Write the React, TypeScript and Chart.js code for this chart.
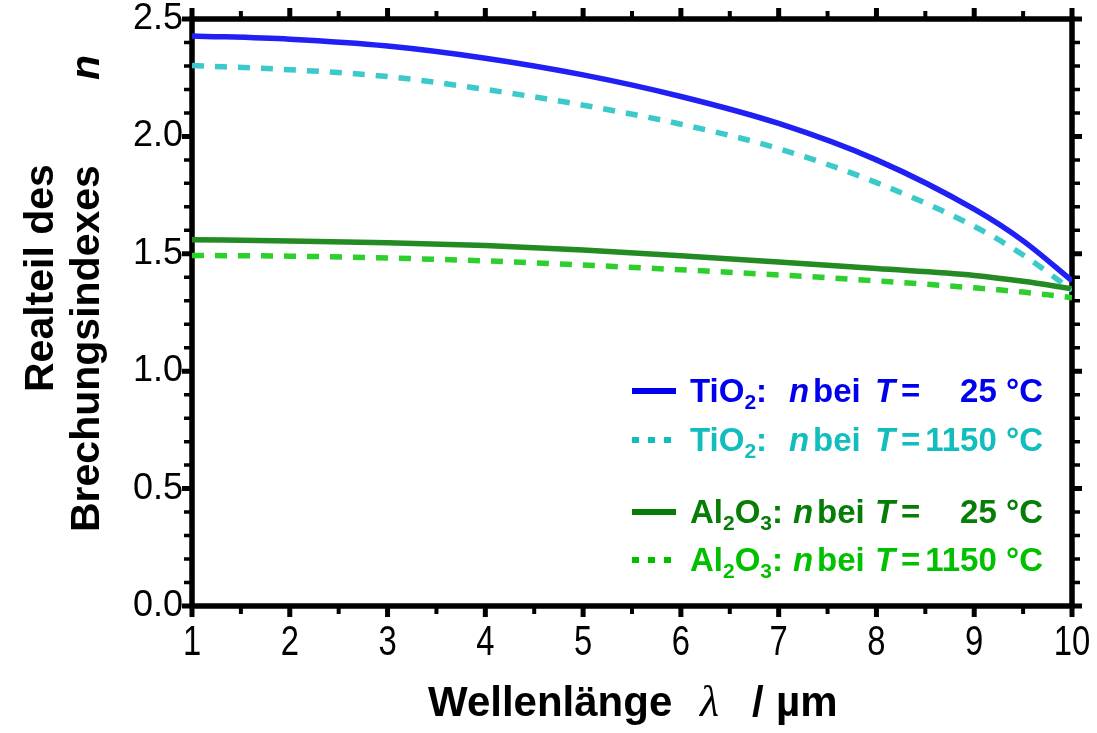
import React, { useEffect, useRef } from 'react';
import { Chart, registerables } from 'chart.js';

Chart.register(...registerables);

// Wavelength (µm)
const WAVELENGTH = [1, 2, 3, 4, 5, 6, 7, 8, 9, 9.5, 10];
// Real part of refractive index n
const TIO2_25 = [2.428, 2.414, 2.385, 2.333, 2.262, 2.17, 2.055, 1.9, 1.69, 1.555, 1.385];
const TIO2_1150 = [2.302, 2.284, 2.255, 2.2, 2.133, 2.052, 1.948, 1.803, 1.617, 1.495, 1.345];
const AL2O3_25 = [1.56, 1.555, 1.547, 1.535, 1.516, 1.492, 1.465, 1.437, 1.408, 1.383, 1.351];
const AL2O3_1150 = [1.493, 1.49, 1.482, 1.47, 1.452, 1.432, 1.41, 1.385, 1.355, 1.337, 1.313];

const X_TICKS = [1, 2, 3, 4, 5, 6, 7, 8, 9, 10];
const X_MINOR = [1.5, 2.5, 3.5, 4.5, 5.5, 6.5, 7.5, 8.5, 9.5];
const Y_TICKS = [0, 0.5, 1.0, 1.5, 2.0, 2.5];
const Y_MINOR = [0.1, 0.2, 0.3, 0.4, 0.6, 0.7, 0.8, 0.9, 1.1, 1.2, 1.3, 1.4, 1.6, 1.7, 1.8, 1.9, 2.1, 2.2, 2.3, 2.4];

const SANS = '"Liberation Sans", Arial, Helvetica, sans-serif';

const C_BLUE = '#2020f5';
const C_CYAN = '#3cc9c9';
const C_DGREEN = '#248a24';
const C_LGREEN = '#2ccf2c';

const framePlugin = {
  id: 'frame',
  beforeDatasetsDraw(chart: any) {
    const { ctx, chartArea: a, scales } = chart;
    const xs = scales.x;
    const ys = scales.y;
    ctx.save();
    ctx.strokeStyle = '#000';
    ctx.lineCap = 'butt';
    const yTick = (v: number, len: number, w: number) => {
      const y = ys.getPixelForValue(v);
      ctx.lineWidth = w;
      ctx.beginPath();
      ctx.moveTo(a.left - len, y);
      ctx.lineTo(a.left, y);
      ctx.moveTo(a.right, y);
      ctx.lineTo(a.right + len, y);
      ctx.stroke();
    };
    const xTick = (v: number, len: number, w: number) => {
      const x = xs.getPixelForValue(v);
      ctx.lineWidth = w;
      ctx.beginPath();
      ctx.moveTo(x, a.bottom);
      ctx.lineTo(x, a.bottom + len);
      ctx.moveTo(x, a.top);
      ctx.lineTo(x, a.top - len);
      ctx.stroke();
    };
    Y_TICKS.forEach((v) => yTick(v, 10, 5));
    Y_MINOR.forEach((v) => yTick(v, 8, 3.5));
    X_TICKS.forEach((v) => xTick(v, 11, 5));
    X_MINOR.forEach((v) => xTick(v, 8, 4));
    ctx.lineWidth = 5.5;
    ctx.strokeRect(a.left, a.top, a.right - a.left, a.bottom - a.top);

    // narrow x tick labels
    ctx.fillStyle = '#000';
    ctx.font = `42px ${SANS}`;
    ctx.textAlign = 'center';
    ctx.textBaseline = 'alphabetic';
    X_TICKS.forEach((v) => {
      const x = xs.getPixelForValue(v);
      ctx.save();
      ctx.translate(x, 655);
      ctx.scale(0.78, 1);
      ctx.fillText(String(v), 0, 0);
      ctx.restore();
    });
    ctx.restore();
  },
};

type Part = { t: string; font: string; dy?: number };

const textPlugin = {
  id: 'texts',
  afterDraw(chart: any) {
    const c: CanvasRenderingContext2D = chart.ctx;
    c.save();
    c.fillStyle = '#000';
    c.textBaseline = 'alphabetic';
    c.textAlign = 'left';
    // X title
    c.font = `bold 42px ${SANS}`;
    c.fillText('Wellenlänge', 428, 716);
    c.font = 'italic 44px "Liberation Serif", "DejaVu Serif", serif';
    c.fillText('λ', 700, 716);
    c.font = `bold 42px ${SANS}`;
    c.fillText('/', 752, 716);
    c.fillText('µm', 776, 716);
    // Y title (rotated)
    c.save();
    c.rotate(-Math.PI / 2);
    c.font = `bold 41px ${SANS}`;
    c.fillText('Realteil des', -392, 53);
    c.fillText('Brechungsindexes', -532, 99);
    c.font = `italic bold 41px ${SANS}`;
    c.fillText('n', -80, 99);
    c.restore();

    // Legend
    const B = `bold 33px ${SANS}`;
    const BI = `italic bold 33px ${SANS}`;
    const SUB = `bold 21px ${SANS}`;
    const row = (y: number, color: string, dashed: boolean, formula: Part[], nx: number, value: string) => {
      c.strokeStyle = color;
      c.lineWidth = 6;
      c.lineCap = 'butt';
      c.setLineDash(dashed ? [7, 9] : []);
      c.beginPath();
      c.moveTo(632, y - 11);
      c.lineTo(676, y - 11);
      c.stroke();
      c.setLineDash([]);
      c.fillStyle = color;
      c.textAlign = 'left';
      let x = 690;
      formula.forEach((p) => {
        c.font = p.font;
        c.fillText(p.t, x, y + (p.dy || 0));
        x += c.measureText(p.t).width;
      });
      c.font = BI;
      c.fillText('n', nx, y);
      c.font = B;
      c.fillText('bei', nx + 24, y);
      c.font = BI;
      c.fillText('T', 875, y);
      c.font = B;
      c.fillText('=', 901, y);
      c.textAlign = 'right';
      c.fillText(value, 1043, y);
    };
    const tio2: Part[] = [
      { t: 'TiO', font: B },
      { t: '2', font: SUB, dy: 7 },
      { t: ':', font: B },
    ];
    const al2o3: Part[] = [
      { t: 'Al', font: B },
      { t: '2', font: SUB, dy: 7 },
      { t: 'O', font: B },
      { t: '3', font: SUB, dy: 7 },
      { t: ':', font: B },
    ];
    row(402, '#0000ee', false, tio2, 789, '25 °C');
    row(451, '#12bdbd', true, tio2, 789, '1150 °C');
    row(523, '#067d06', false, al2o3, 793, '25 °C');
    row(571, '#00c000', true, al2o3, 793, '1150 °C');
    c.restore();
  },
};

const pts = (ys: number[]) => WAVELENGTH.map((x, i) => ({ x, y: ys[i] }));

export default function App() {
  const ref = useRef<HTMLCanvasElement>(null);
  useEffect(() => {
    document.body.style.margin = '0';
    const canvas = ref.current!;
    const common = {
      pointRadius: 0,
      borderWidth: 5.5,
      borderCapStyle: 'butt' as const,
      fill: false,
      cubicInterpolationMode: 'monotone' as const,
    };
    const chart = new Chart(canvas, {
      type: 'line',
      data: {
        datasets: [
          { ...common, label: 'TiO2 25 °C', data: pts(TIO2_25), borderColor: C_BLUE },
          { ...common, label: 'TiO2 1150 °C', data: pts(TIO2_1150), borderColor: C_CYAN, borderDash: [12, 11] },
          { ...common, label: 'Al2O3 25 °C', data: pts(AL2O3_25), borderColor: C_DGREEN },
          { ...common, label: 'Al2O3 1150 °C', data: pts(AL2O3_1150), borderColor: C_LGREEN, borderDash: [12, 11] },
        ],
      },
      options: {
        responsive: false,
        animation: false,
        devicePixelRatio: 1,
        layout: { padding: { top: 19, right: 25, left: 0, bottom: 0 } },
        plugins: { legend: { display: false }, tooltip: { enabled: false } },
        scales: {
          x: {
            type: 'linear',
            min: 1,
            max: 10,
            afterBuildTicks: (s: any) => {
              s.ticks = X_TICKS.map((v) => ({ value: v }));
            },
            afterFit: (s: any) => {
              s.height = 127;
              s.paddingLeft = 0;
              s.paddingRight = 0;
            },
            grid: { display: false, drawTicks: false },
            border: { display: false },
            ticks: { display: false },
          },
          y: {
            type: 'linear',
            min: 0,
            max: 2.5,
            afterBuildTicks: (s: any) => {
              s.ticks = Y_TICKS.map((v) => ({ value: v }));
            },
            afterFit: (s: any) => {
              s.width = 192;
              s.paddingTop = 0;
              s.paddingBottom = 0;
            },
            grid: { display: false, drawTicks: false },
            border: { display: false },
            ticks: {
              padding: 9,
              color: '#000',
              font: { family: SANS, size: 36, lineHeight: 1 },
              callback: (v: any) => Number(v).toFixed(1),
            },
          },
        },
      },
      plugins: [framePlugin, textPlugin],
    });
    return () => chart.destroy();
  }, []);
  return (
    <div style={{ width: 1097, height: 733 }}>
      <canvas ref={ref} width={1097} height={733} style={{ display: 'block' }} />
    </div>
  );
}
